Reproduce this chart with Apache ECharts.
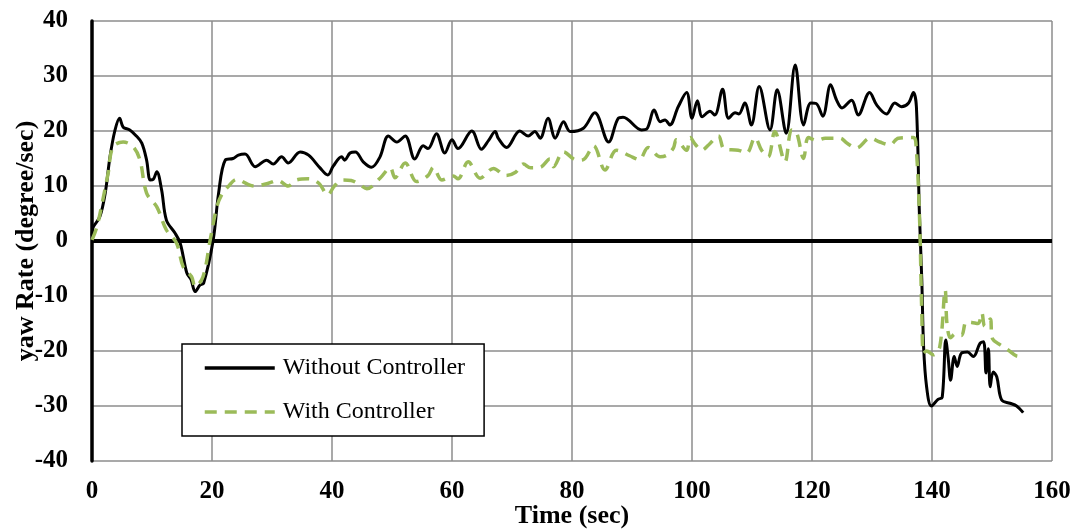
<!DOCTYPE html>
<html>
<head>
<meta charset="utf-8">
<script src="https://cdn.jsdelivr.net/npm/echarts@6/dist/echarts.min.js"></script>
<style>
html,body{margin:0;padding:0;background:#fff;}
#chart{width:1077px;height:532px;}
</style>
</head>
<body>
<div id="chart"></div>
<script>
const seriesNames = ["Without Controller", "With Controller"];
const xTicks = [0, 20, 40, 60, 80, 100, 120, 140, 160];
const yTicks = [-40, -30, -20, -10, 0, 10, 20, 30, 40];

const timeWithout = [0,0.2,1.3,2.2,3.0,3.8,4.6,5.2,6.3,7.3,8.3,9.1,9.7,10.2,10.8,11.6,12.4,13.8,14.7,15.8,16.5,17.2,18.0,18.6,20.2,21.1,22.2,23.5,24.4,25.5,27.2,29.1,30.2,31.6,32.7,34.7,36.1,38,39.3,40.2,41.6,42.1,43,43.9,45.2,46.6,48,49.4,50.8,52.2,53.8,55.2,56,57.4,58.8,60,61,63.3,64.9,66.1,67.2,67.7,69.1,71.3,72.7,73.8,74.7,76,77.2,78.6,79.7,81.9,83.8,86.1,87.7,88.5,91.6,92.4,93.7,94.7,95.5,96.3,97.7,99.1,100,100.9,101.7,103,103.8,105.1,106.1,107.2,107.8,108.8,109.9,111.2,113,114.2,115.7,117.2,118.6,119.8,120.7,121.8,123.1,124.1,125,126.6,127.7,129.6,130.8,132.4,133.8,134.9,136.1,136.9,137.4,137.9,138.3,138.6,139.1,139.9,141,141.7,142.3,142.7,143.1,143.7,144.2,144.9,145.9,146.9,148,148.6,149,149.4,149.7,150.2,150.8,151.6,153,154.1,155.2];
const yawWithout = [1,2.5,4.4,8.7,15.3,20,22.3,20.7,20.2,19.2,17.8,14.7,11.1,11.2,12.6,9.3,3.8,1.5,-0.4,-5.8,-7.0,-9.2,-8.0,-7.7,0.2,8.7,14.7,15,15.6,15.8,13.5,14.7,14,15.3,14.2,16.2,15.6,13.3,12,13.6,15.3,14.7,16,16.2,14.4,13.4,15.3,19.1,18,19.1,14.9,17.3,16.8,19.5,16,18.4,16.8,20,16.7,18.3,19.9,18.7,17,20,19.1,19.9,18.7,22.3,18.7,21.7,19.9,20.5,23.3,18,22.3,22.5,20.2,20.3,23.8,21.7,22,21.1,24.4,27,22.3,25.5,22.6,23.6,22.9,27.6,22.3,23.3,23.1,25.1,21.1,28.1,20.2,27.5,19.6,32,21.1,25.1,25,22.7,28.4,25.6,24.2,25.6,22.9,27,24.7,23.1,25.1,24.4,25.1,27,24.4,5,-7.1,-19.2,-26.5,-30,-28.8,-28.4,-18,-21.3,-25.3,-21,-22.8,-20.4,-20.2,-21,-18.6,-18.3,-24,-19.6,-26.5,-23.8,-24.7,-28.9,-29.5,-30,-31.2];

const timeWith = [0,0.8,1.9,2.7,3.5,5.2,6.9,8,9.1,10.8,12.4,14.1,15.2,16.6,17.2,18.5,19.7,20.8,21.6,22.7,24.1,26,27.1,29.4,31,32.7,34.1,36.1,37.8,39.3,40.4,41.8,43.2,44.7,45.8,48,49.7,50.5,52.2,54.1,56,56.9,58.3,60.2,61,62.7,64.7,66.9,69,70.6,71.9,73.1,74.7,76.3,76.9,78.6,80.8,81.9,83.6,85.5,87.4,89.6,91.2,92.7,94.7,95.8,96.9,97.4,99.1,99.7,100.6,101.6,102.8,104.4,105.4,107.7,109.1,110.5,111.6,112.7,113.8,115.5,116.6,117.4,118.6,119.4,120.8,122.2,124.7,125.8,127.4,129.7,131.3,133,134.4,136.9,137.3,137.9,138.3,138.6,139.1,140.2,141.3,142.2,142.5,143.1,143.9,144.9,145.7,146.6,147.7,148.3,148.8,149.7,150.1,151.4,152.8,154.1,155.2];
const yawWith = [0.2,2.5,8,12.4,17.1,18,17.1,14.7,8.7,6.2,2,-0.4,-4.7,-6.5,-8.3,-6.5,0.2,6.2,8.4,9.9,11.2,10.3,10,10.5,11,10,11.1,11.3,10.5,8.4,10,11.1,11.0,10.2,9.5,11.4,13.3,11.5,14.2,10.8,11.9,13.4,11.1,11.8,11.3,14.4,11.4,13.2,11.9,12.5,14,13.3,13.4,14.9,13.5,16.2,14.7,14.8,17.3,12.9,16.5,15.5,14.8,17,15.3,15.6,16.9,18.4,16.5,18.8,17.5,16.5,17.5,19.1,16.7,16.5,16,18.8,16.5,15.3,19.9,14.4,20.2,19.8,15,18.8,18.3,18.7,18.7,17.8,16.9,18.7,18,17.5,18.7,18.8,18,5,-13,-20.4,-20,-20.7,-19.2,-8.9,-15.1,-17.6,-16.9,-17.2,-14.7,-14.8,-15,-13.1,-15.5,-14.2,-17.8,-18.9,-19.9,-20.9,-21];

const pairs = (xs, ys) => xs.map((x, i) => [x, ys[i]]);
const chart = echarts.init(document.getElementById('chart'), null, {renderer: 'canvas'});
const serif = '"Liberation Serif", "Times New Roman", serif';
const gridColor = '#8c8c8c';

chart.setOption({
  animation: false,
  backgroundColor: '#ffffff',
  grid: {left: 92, right: 25, top: 21, bottom: 71, containLabel: false, outerBoundsMode: 'none'},
  legend: {
    orient: 'vertical',
    left: 182, top: 344,
    padding: [12, 19, 12, 21],
    itemGap: 20,
    itemWidth: 70,
    itemHeight: 14,
    borderColor: '#000', borderWidth: 1.5,
    backgroundColor: '#fff',
    itemStyle: {opacity: 0},
    lineStyle: {width: 3.5},
    textStyle: {fontFamily: serif, fontSize: 24, color: '#000', padding: [0,0,0,3]},
    data: seriesNames
  },
  xAxis: {
    type: 'value', min: xTicks[0], max: xTicks[xTicks.length-1], interval: 20,
    name: 'Time (sec)', nameLocation: 'middle', nameGap: 42, nameMoveOverlap: false,
    nameTextStyle: {fontFamily: serif, fontSize: 26, fontWeight: 'bold', color: '#000'},
    axisLine: {show: false},
    axisTick: {show: false},
    axisLabel: {fontFamily: serif, fontSize: 25, fontWeight: 'bold', color: '#000', margin: 18},
    splitLine: {show: true, lineStyle: {color: gridColor, width: 1.5}}
  },
  yAxis: {
    type: 'value', min: yTicks[0], max: yTicks[yTicks.length-1], interval: 10,
    name: 'yaw Rate (degree/sec)', nameLocation: 'middle', nameGap: 53, nameMoveOverlap: false,
    nameTextStyle: {fontFamily: serif, fontSize: 26, fontWeight: 'bold', color: '#000'},
    axisLine: {show: true, onZero: false, lineStyle: {color: '#000', width: 3.5}},
    axisTick: {show: false},
    axisLabel: {fontFamily: serif, fontSize: 25, fontWeight: 'bold', color: '#000', margin: 24},
    splitLine: {show: true, lineStyle: {color: gridColor, width: 1.5}}
  },
  series: [
    {
      name: seriesNames[0], type: 'line', data: pairs(timeWithout, yawWithout),
      symbol: 'none', smooth: 0.35, z: 3,
      lineStyle: {color: '#000', width: 3},
      itemStyle: {color: '#000'},
      markLine: {
        silent: true, symbol: 'none', label: {show: false},
        lineStyle: {color: '#000', width: 4, type: 'solid'},
        data: [{yAxis: 0}], z: 1
      }
    },
    {
      name: seriesNames[1], type: 'line', data: pairs(timeWith, yawWith),
      symbol: 'none', smooth: 0.35, z: 4,
      lineStyle: {color: '#9BBB59', width: 3.5, type: [12, 8]},
      itemStyle: {color: '#9BBB59'}
    }
  ]
});
</script>
</body>
</html>
